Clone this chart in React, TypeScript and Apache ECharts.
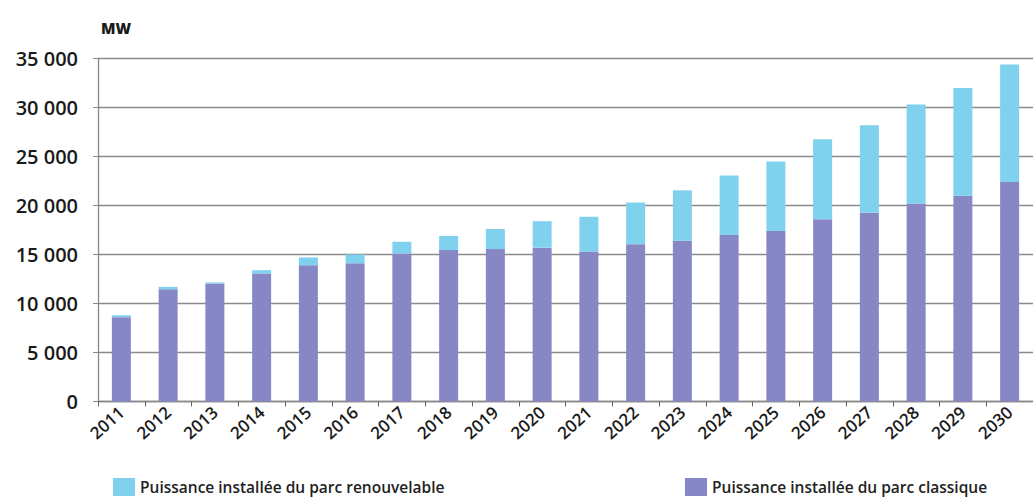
import React, { useEffect, useRef } from "react";
import * as echarts from "echarts";

const years = ["2011","2012","2013","2014","2015","2016","2017","2018","2019","2020","2021","2022","2023","2024","2025","2026","2027","2028","2029","2030"];
const classique = [8600, 11450, 12050, 13050, 13900, 14100, 15100, 15450, 15550, 15700, 15300, 16050, 16400, 17000, 17400, 18600, 19250, 20200, 21000, 22400];
const renouvelable = [200, 250, 100, 350, 800, 900, 1200, 1450, 2050, 2700, 3550, 4250, 5150, 6050, 7100, 8150, 8950, 10100, 11000, 12000];
const nameRenouv = "Puissance installée du parc renouvelable";
const nameClassique = "Puissance installée du parc classique";
const unitLabel = "MW";

const FONT = "'Open Sans', 'DejaVu Sans', sans-serif";
const fmt = (v: number) => {
  if (v === 0) return "0";
  const s = String(v);
  return s.slice(0, s.length - 3) + " " + s.slice(s.length - 3);
};

export default function App() {
  const ref = useRef<HTMLDivElement>(null);
  useEffect(() => {
    if (!ref.current) return;
    const chart = echarts.init(ref.current, undefined, { renderer: "svg" });
    chart.setOption({
      animation: false,
      backgroundColor: "#ffffff",
      title: {
        text: unitLabel,
        left: 96,
        top: 15,
        textStyle: { fontFamily: FONT, fontSize: 15, fontWeight: 800, color: "#1a1a1a" },
      },
      legend: [
        {
          data: [nameRenouv],
          left: 108,
          top: 473,
          itemWidth: 22,
          itemHeight: 18,
          itemGap: 8,
          icon: "rect",
          textStyle: { fontFamily: FONT, fontSize: 15.5, fontWeight: 600, color: "#222" },
        },
        {
          data: [nameClassique],
          left: 680,
          top: 473,
          itemWidth: 22,
          itemHeight: 18,
          icon: "rect",
          textStyle: { fontFamily: FONT, fontSize: 15.5, fontWeight: 600, color: "#222" },
        },
      ],
      grid: { left: 98, top: 58.5, width: 943, height: 343, containLabel: false },
      xAxis: {
        type: "category",
        data: years,
        axisLine: { show: true, lineStyle: { color: "#888", width: 1.3 } },
        axisTick: { show: true, length: 5, lineStyle: { color: "#666" } },
        axisLabel: {
          rotate: 42,
          margin: 8,
          fontFamily: FONT,
          fontSize: 17,
          fontWeight: 600,
          color: "#1a1a1a",
        },
      },
      yAxis: {
        type: "value",
        min: 0,
        max: 35000,
        interval: 5000,
        axisLine: { show: true, lineStyle: { color: "#888", width: 1.3 } },
        axisTick: { show: true, length: 5, lineStyle: { color: "#888" } },
        splitLine: { show: true, lineStyle: { color: "#8a8a8a", width: 1.3 } },
        axisLabel: {
          formatter: (v: number) => fmt(v),
          margin: 20,
          fontFamily: FONT,
          fontSize: 20,
          fontWeight: 600,
          color: "#1a1a1a",
        },
      },
      series: [
        {
          name: nameClassique,
          type: "bar",
          stack: "total",
          data: classique,
          barWidth: 19,
          itemStyle: { color: "#8787c6" },
        },
        {
          name: nameRenouv,
          type: "bar",
          stack: "total",
          data: renouvelable,
          barWidth: 19,
          itemStyle: { color: "#80d1ee" },
        },
      ],
    });
    return () => chart.dispose();
  }, []);
  return (
    <div
      ref={ref}
      style={{ position: "fixed", left: 0, top: 0, width: 1033, height: 499, background: "#fff" }}
    />
  );
}
